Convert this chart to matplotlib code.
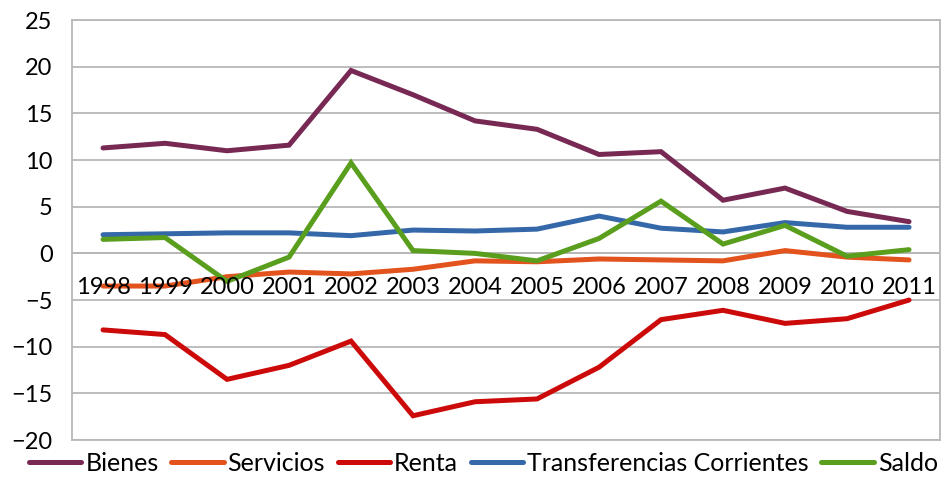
import matplotlib
matplotlib.use("Agg")
import matplotlib.pyplot as plt

# Data
years = ['1998', '1999', '2000', '2001', '2002', '2003', '2004',
         '2005', '2006', '2007', '2008', '2009', '2010', '2011']
bienes = [11.3, 11.8, 11.0, 11.6, 19.6, 17.0, 14.2, 13.3, 10.6, 10.9, 5.7, 7.0, 4.5, 3.4]
servicios = [-3.5, -3.5, -2.5, -2.0, -2.2, -1.7, -0.8, -0.9, -0.6, -0.7, -0.8, 0.3, -0.4, -0.7]
renta = [-8.2, -8.7, -13.5, -12.0, -9.4, -17.4, -15.9, -15.6, -12.2, -7.1, -6.1, -7.5, -7.0, -5.0]
transferencias = [2.0, 2.1, 2.2, 2.2, 1.9, 2.5, 2.4, 2.6, 4.0, 2.7, 2.3, 3.3, 2.8, 2.8]
saldo = [1.5, 1.7, -3.0, -0.4, 9.7, 0.3, 0.0, -0.8, 1.6, 5.6, 1.0, 3.0, -0.3, 0.4]

series = [
    ('Bienes', bienes, '#772953'),
    ('Servicios', servicios, '#E2531D'),
    ('Renta', renta, '#CC0A0A'),
    ('Transferencias Corrientes', transferencias, '#3568A9'),
    ('Saldo', saldo, '#5A9E1E'),
]

plt.rcParams['font.family'] = ['Lato', 'DejaVu Sans']

fig = plt.figure(figsize=(9.44, 4.79), dpi=100)
ax = fig.add_axes([0.0763, 0.0814, 0.9195, 0.8766])

x = list(range(len(years)))
for name, vals, col in series:
    ax.plot(x, vals, color=col, lw=3.6, label=name, solid_capstyle='round',
            solid_joinstyle='miter', zorder=3)

ax.set_xlim(-0.5, len(years) - 0.5)
ax.set_ylim(-20, 25)
ax.set_yticks(range(-20, 30, 5))
ax.grid(axis='y', color='#b8b8b8', lw=1.3)
ax.set_axisbelow(True)

for s in ['left', 'right', 'top', 'bottom']:
    ax.spines[s].set_color('#b8b8b8')
    ax.spines[s].set_linewidth(1.3)

# category axis crosses at zero, labels drawn on top of the lines
ax.axhline(0, color='#b8b8b8', lw=1.3, zorder=1)
ax.set_xticks([])
for xi, yr in zip(x, years):
    ax.annotate(yr, (xi, 0), xytext=(0, -17), textcoords='offset points',
                ha='center', va='top', fontsize=17, zorder=5)

ax.tick_params(axis='both', length=0, labelsize=17)
ax.tick_params(axis='y', pad=14)

ax.legend(loc='lower center', bbox_to_anchor=(0.512, -0.012), bbox_transform=fig.transFigure,
          ncol=5, frameon=False, fontsize=18, handlelength=2.1, handletextpad=0.16,
          columnspacing=0.5, borderaxespad=0)

fig.savefig('out.png', dpi=100)
